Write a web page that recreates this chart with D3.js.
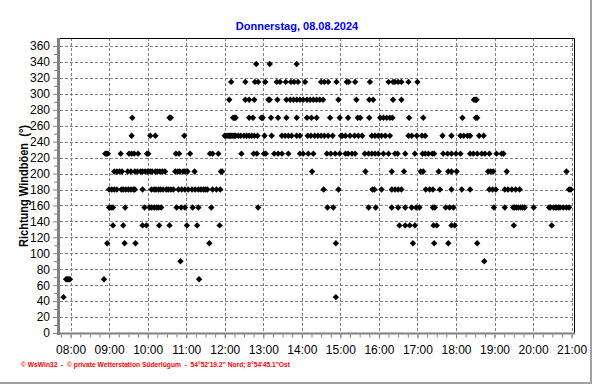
<!DOCTYPE html>
<html>
<head>
<meta charset="utf-8">
<script src="https://cdn.jsdelivr.net/npm/d3@7"></script>
<style>
body { margin:0; background:#fff; }
svg { display:block; font-family:"Liberation Sans", Arial, sans-serif; }
</style>
</head>
<body>
<div id="vis"></div>
<script>
// chart texts
let title = "Donnerstag, 08.08.2024"
let yTitle = "Richtung Windböen  (°)"
let footer = "© WsWin32  -  © private Wetterstation Süderlügum  -  54°52'19.2\" Nord; 8°54'45.1\"Ost"

// y ticks (degrees)
let yTicks = d3.range(0, 361, 20)
let yMinorTicks = d3.range(10, 360, 20)

// gust direction levels and the times they were recorded
let directions = [45, 67.5, 90, 112.5, 135, 157.5, 180, 202.5, 225, 247.5, 270, 292.5, 315, 337.5]

let t045 = ["07:49","14:53"]
let t067 = ["07:53","07:55","07:57","07:59","08:52","11:20"]
let t090 = ["10:51","18:44"]
let t112 = ["08:57","09:24","09:41","11:36","14:53","16:53","17:26","17:48","18:33"]
let t135 = ["09:06","09:22","09:52","09:58","10:18","10:34","11:01","11:17","11:52","16:32","16:41","16:48",
    "16:56","17:25","17:30","17:53","17:58","19:30","20:29"]
let t157 = ["09:00","09:03","09:06","09:25","09:55","10:03","10:06","10:10","10:14","10:17","10:21","10:45",
    "10:52","10:58","11:10","11:19","11:39","12:52","14:40","14:49","15:44","15:55","16:20","16:30","16:41",
    "16:51","16:58","17:03","17:24","17:27","17:44","17:50","17:56","18:59","19:16","19:29","19:31","19:34",
    "19:37","19:41","19:44","19:47","20:01","20:25","20:27","20:32","20:35","20:37","20:40","20:42","20:47",
    "20:52","20:56"]
let t180 = ["09:00","09:04","09:08","09:12","09:19","09:22","09:26","09:30","09:34","09:38","09:40","09:52",
    "10:06","10:10","10:13","10:17","10:20","10:24","10:29","10:32","10:36","10:40","10:48","10:53","10:58",
    "11:03","11:09","11:14","11:19","11:23","11:27","11:30","11:33","11:41","11:47","11:53","14:34","14:57",
    "15:50","15:53","16:04","16:20","16:25","16:30","16:35","17:13","17:19","17:24","17:35","17:53","18:09",
    "18:22","18:52","18:57","19:02","19:16","19:21","19:27","19:33","19:39","20:56","20:59"]
let t202 = ["09:08","09:12","09:16","09:20","09:29","09:34","09:40","09:44","09:49","09:52","09:56","10:00",
    "10:04","10:07","10:12","10:15","10:19","10:23","10:27","10:43","10:47","10:50","10:55","10:58","11:02",
    "11:13","11:54","11:56","14:16","15:39","16:20","16:39","17:05","17:09","17:33","17:48","17:53","18:01",
    "18:50","18:54","18:58","19:19","20:52"]
let t225 = ["08:54","08:56","08:58","09:18","09:31","09:35","09:39","09:45","09:59","10:01","10:44","10:49",
    "11:06","11:37","11:41","11:50","12:26","12:45","12:50","13:01","13:04","13:17","13:23","13:29","13:39",
    "13:57","14:02","14:10","14:18","14:39","14:45","14:52","14:59","15:08","15:12","15:18","15:23","15:38",
    "15:44","15:49","15:54","15:59","16:07","16:15","16:25","16:29","16:41","16:56","17:08","17:12","17:17",
    "17:23","17:26","17:40","17:47","17:53","18:00","18:07","18:22","18:27","18:33","18:40","18:45","18:52",
    "19:03","19:11","19:14"]
let t247 = ["09:35","10:04","10:12","10:57","12:00","12:02","12:05","12:07","12:09","12:11","12:13","12:15",
    "12:17","12:21","12:25","12:30","12:34","12:38","12:42","12:46","12:51","13:02","13:13","13:29","13:34",
    "13:39","13:44","13:52","13:57","14:09","14:14","14:20","14:25","14:30","14:35","14:41","14:48","15:01",
    "15:03","15:08","15:15","15:22","15:28","15:34","15:49","15:54","15:59","16:04","16:10","16:17","16:46",
    "16:51","16:59","17:07","17:12","17:39","17:53","18:07","18:12","18:18","18:22","18:36","18:43"]
let t270 = ["09:36","10:34","10:36","12:13","12:15","12:17","12:38","12:44","12:57","12:59","13:12","13:23",
    "13:36","13:52","14:08","14:15","14:23","14:44","14:59","15:12","15:27","15:31","15:45","16:02","16:07",
    "16:12","16:17","16:21","16:47","17:09","18:10","18:31","18:33"]
let t292 = ["12:07","12:32","12:38","12:46","13:08","13:10","13:22","13:36","13:42","13:47","13:52","13:57",
    "14:02","14:08","14:13","14:18","14:23","14:28","14:33","14:57","15:25","15:45","15:51","16:22","16:35",
    "18:28","18:30","18:32"]
let t315 = ["12:10","12:32","12:47","12:52","13:03","13:21","13:26","13:35","13:43","13:48","13:54","14:05",
    "14:30","14:35","14:41","14:54","15:10","15:13","15:23","15:46","16:15","16:22","16:25","16:30","16:35",
    "16:46","17:00"]
let t337 = ["12:49","13:10","13:52"]

let timesByDir = [t045, t067, t090, t112, t135, t157, t180, t202, t225, t247, t270, t292, t315, t337]

// plot box
let plot = { left:60, top:38, right:574.5, bottom:333 }

let svg = d3.select('#vis')
    .append('svg')
    .attr('width', 592)
    .attr('height', 384)

let toDate = s => {
    let [h, m] = s.split(':')
    return new Date(2024, 7, 8, +h, +m)
}

let data = []
directions.forEach((dir, i) => {
    timesByDir[i].forEach(t => data.push({ time: toDate(t), dir: dir }))
})

// scales
let xScale = d3.scaleTime()
    .domain([new Date(2024, 7, 8, 7, 43, 30), new Date(2024, 7, 8, 21, 4, 30)])
    .range([plot.left, plot.right])

let yScale = d3.scaleLinear()
    .domain([0, 360])
    .range([333, 46])

let hours = xScale.ticks(d3.timeHour.every(1))

// grid
svg.append('g')
    .selectAll('line')
    .data(hours)
    .join('line')
        .attr('x1', d => Math.round(xScale(d)) + 0.5)
        .attr('x2', d => Math.round(xScale(d)) + 0.5)
        .attr('y1', plot.top)
        .attr('y2', plot.bottom)
        .attr('stroke', '#808080')
        .attr('stroke-dasharray', '3,2')

svg.append('g')
    .selectAll('line')
    .data(yTicks.filter(d => d > 0))
    .join('line')
        .attr('x1', plot.left)
        .attr('x2', plot.right)
        .attr('y1', d => Math.round(yScale(d)) + 0.5)
        .attr('y2', d => Math.round(yScale(d)) + 0.5)
        .attr('stroke', '#808080')
        .attr('stroke-dasharray', '3,2')

// points
svg.append('g')
    .selectAll('path')
    .data(data)
    .join('path')
        .attr('d', 'M0,-3.2L3.2,0L0,3.2L-3.2,0Z')
        .attr('transform', d => `translate(${xScale(d.time)},${yScale(d.dir)})`)
        .attr('fill', '#000')

// border
svg.append('path')
    .attr('d', `M${plot.left},${plot.top + 0.5}H${plot.right}V${plot.bottom}`)
    .attr('fill', 'none')
    .attr('stroke', '#000')

// axes
let yAxis = d3.axisLeft(yScale).tickValues(yTicks).tickSize(4).tickPadding(3)
let yMinor = d3.axisLeft(yScale).tickValues(yMinorTicks).tickSize(3).tickFormat('')

svg.append('g')
    .attr('transform', 'translate(57,0)')
    .call(yAxis)
svg.append('g')
    .attr('transform', 'translate(57,0)')
    .call(yMinor)

let xAxis = d3.axisBottom(xScale)
    .ticks(d3.timeHour.every(1))
    .tickFormat(d3.timeFormat('%H:%M'))
    .tickSize(4)
let xMinor = d3.axisBottom(xScale)
    .ticks(d3.timeMinute.every(15))
    .tickSize(3)
    .tickFormat('')

svg.append('g')
    .attr('id', 'x-axis')
    .attr('transform', 'translate(0,334.5)')
    .call(xAxis)
svg.append('g')
    .attr('transform', 'translate(0,334.5)')
    .call(xMinor)

svg.selectAll('.domain').remove()
svg.selectAll('.tick line').attr('stroke', '#808080')
svg.selectAll('.tick text')
    .attr('font-family', '"Liberation Sans", Arial, sans-serif')
    .attr('font-size', 12)
    .attr('fill', '#000')
d3.selectAll('#x-axis .tick text').attr('y', 19.5).attr('dy', 0)

// axis lines (grey, thick)
svg.append('line')
    .attr('x1', 58.5).attr('x2', 58.5)
    .attr('y1', plot.top).attr('y2', 335)
    .attr('stroke', '#808080')
    .attr('stroke-width', 3)
svg.append('line')
    .attr('x1', 57).attr('x2', plot.right + 0.5)
    .attr('y1', 333.5).attr('y2', 333.5)
    .attr('stroke', '#808080')
    .attr('stroke-width', 2)

// texts
svg.append('text')
    .attr('x', 297)
    .attr('y', 30)
    .attr('text-anchor', 'middle')
    .attr('font-size', 11)
    .attr('font-weight', 'bold')
    .attr('fill', '#0000ff')
    .text(title)

svg.append('text')
    .attr('transform', 'translate(28,186) rotate(-90)')
    .attr('text-anchor', 'middle')
    .attr('font-size', 12)
    .attr('font-weight', 'bold')
    .attr('fill', '#000')
    .attr('textLength', 122)
    .attr('lengthAdjust', 'spacingAndGlyphs')
    .style('white-space', 'pre')
    .text(yTitle)

svg.append('text')
    .attr('x', 21)
    .attr('y', 366.5)
    .attr('font-size', 7)
    .attr('font-weight', 'bold')
    .attr('fill', '#ff0000')
    .attr('textLength', 269)
    .attr('lengthAdjust', 'spacingAndGlyphs')
    .style('white-space', 'pre')
    .text(footer)

// frame
svg.append('path')
    .attr('d', 'M591,0V383H0')
    .attr('fill', 'none')
    .attr('stroke', '#a0a0a0')
    .attr('stroke-width', 2)
</script>
</body>
</html>
